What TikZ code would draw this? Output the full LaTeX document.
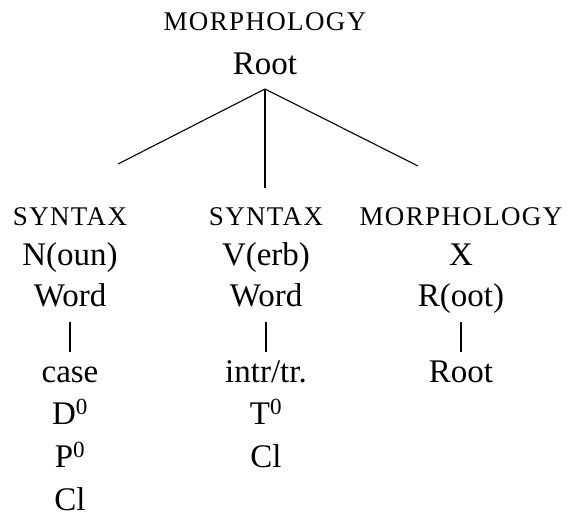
\documentclass[tikz,border=0pt]{standalone}
\usepackage{fontspec}
\setmainfont{Liberation Serif}
\newfontfamily\capsfont[LetterSpace=5]{Liberation Serif}
\usepackage{tikz}
\tikzset{%
	word/.style={inner sep=0pt, anchor=base, text height=23pt, text depth=0pt,
		font=\fontsize{33}{36}\selectfont},
	level/.style={inner sep=0pt, anchor=base,
		font=\capsfont\fontsize{27}{30}\selectfont},
	branch/.style={draw, line width=1.1pt},
	bar/.style={draw, line width=1.1pt, shorten <=16pt, shorten >=7pt},
}

\begin{document}
\begin{tikzpicture}[x=1pt, y=-1pt]
    \useasboundingbox (0,0) rectangle (567,520);

    % mother node
    \node [level] (TopMorph) at (265,30) {MORPHOLOGY};
    \node [word] (Root) at (265,74) {Root};

    \coordinate (Apex) at (265,89);
    \coordinate (LeftEnd) at (118,164);
    \coordinate (MidEnd) at (265,188);
    \coordinate (RightEnd) at (418,166);

    % left column
    \node [level] (SynN) at (70,225) {SYNTAX};
    \node [word] (Noun) at (70,265) {N(oun)};
    \node [word] (WordN) at (70,306) {Word};
    \node [word] (Case) at (70,382) {case};
    \node [word] (Dzero) at (70,424) {D\textsuperscript{0}};
    \node [word] (Pzero) at (70,467) {P\textsuperscript{0}};
    \node [word] (ClN) at (70,510) {Cl};

    % middle column
    \node [level] (SynV) at (266,225) {SYNTAX};
    \node [word] (Verb) at (266,265) {V(erb)};
    \node [word] (WordV) at (266,306) {Word};
    \node [word] (Trans) at (266,382) {intr/tr.};
    \node [word] (Tzero) at (266,424) {T\textsuperscript{0}};
    \node [word] (ClV) at (266,467) {Cl};

    % right column
    \node [level] (MorphR) at (461,225) {MORPHOLOGY};
    \node [word] (Xcat) at (461,265) {X};
    \node [word] (RootR) at (461,306) {R(oot)};
    \node [word] (RootLow) at (461,382) {Root};

    \path [branch] (LeftEnd) -- (Apex) -- (RightEnd);
    \path [branch] (Apex) -- (MidEnd);

    \path [bar] (WordN.south) -- (Case.north);
    \path [bar] (WordV.south) -- (Trans.north);
    \path [bar] (RootR.south) -- (RootLow.north);

\end{tikzpicture}
\end{document}
